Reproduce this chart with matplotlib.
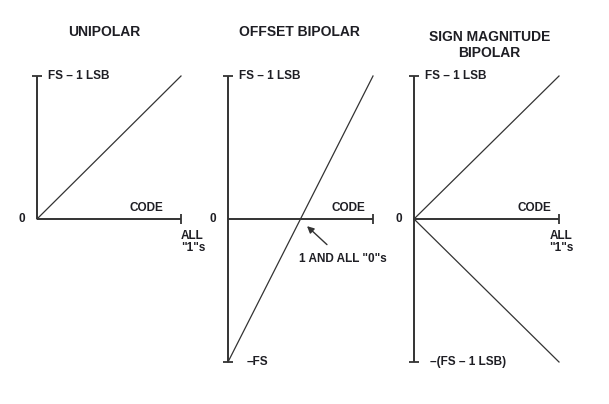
import matplotlib
matplotlib.use("Agg")
import matplotlib.pyplot as plt

# ================= DATA =================
# code runs from all "0"s (0) to all "1"s (1); output normalised to full scale
code = [0.0, 1.0]
unipolar_out = [0.0, 1.0]
offset_out = [-1.0, 1.0]
signmag_pos = [0.0, 1.0]
signmag_neg = [0.0, -1.0]

titles = ["UNIPOLAR", "OFFSET BIPOLAR", "SIGN MAGNITUDE\nBIPOLAR"]
top_label = "FS \u2013 1 LSB"
bottom_labels = [None, "\u2013FS", "\u2013(FS \u2013 1 LSB)"]
midscale_label = '1 AND ALL "0"s'
all_ones = 'ALL\n"1"s'
# ========================================

W, H = 609, 404
INK = "#1e1e24"
LINE = "#333333"
FS = 8.5

plt.rcParams["font.family"] = ["Liberation Sans", "DejaVu Sans"]
plt.rcParams["font.weight"] = "bold"

fig = plt.figure(figsize=(W / 100, H / 100), dpi=100)
fig.patch.set_facecolor("white")

# pixel extents of each panel: (x at code 0, x at all "1"s)
panels = [(37, 181), (228, 373), (414, 559)]
y_top, y_bot = 76, 362


def make_axes(x0, x1):
    ax = fig.add_axes([x0 / W, 1 - y_bot / H, (x1 - x0) / W, (y_bot - y_top) / H])
    ax.set_xlim(0, 1)
    ax.set_ylim(-1, 1)
    ax.axis("off")
    return ax


def frame(ax, bipolar, code_x):
    ybot = -1 if bipolar else 0
    ax.plot([0, 0], [ybot, 1], color=LINE, lw=1.4, clip_on=False, solid_capstyle="butt")
    ax.plot([0, 1], [0, 0], color=LINE, lw=1.4, clip_on=False, solid_capstyle="butt")
    ax.plot([0], [1], marker="_", ms=6.5, mew=1.3, color=LINE, clip_on=False)
    if bipolar:
        ax.plot([0], [-1], marker="_", ms=6.5, mew=1.3, color=LINE, clip_on=False)
    ax.plot([1], [0], marker="|", ms=7, mew=1.3, color=LINE, clip_on=False)
    ax.text(0.075, 1, top_label, fontsize=FS, color=INK, va="center", ha="left")
    ax.text(-0.08, 0, "0", fontsize=FS, color=INK, va="center", ha="right")
    ax.text(code_x, 0.035, "CODE", fontsize=FS, color=INK, va="bottom", ha="right")


# ---- unipolar ----
ax1 = make_axes(*panels[0])
frame(ax1, False, 0.875)
ax1.plot(code, unipolar_out, color=LINE, lw=0.9, clip_on=False)
ax1.text(1.0, -0.075, all_ones, fontsize=FS, color=INK, va="top", ha="left",
         linespacing=1.05)
ax1.text(0.465, 1.305, titles[0], fontsize=10, color=INK, ha="center", va="center")

# ---- offset bipolar ----
ax2 = make_axes(*panels[1])
frame(ax2, True, 0.95)
ax2.plot(code, offset_out, color=LINE, lw=0.9, clip_on=False)
ax2.text(0.13, -1, bottom_labels[1], fontsize=FS, color=INK, va="center", ha="left")
ax2.annotate(midscale_label, xy=(0.545, -0.05), xytext=(0.79, -0.28),
             fontsize=FS, color=INK, ha="center", va="center",
             arrowprops=dict(arrowstyle="-|>", color=LINE, lw=1.0,
                             shrinkA=6, shrinkB=0, mutation_scale=10))
ax2.text(0.49, 1.305, titles[1], fontsize=10, color=INK, ha="center", va="center")

# ---- sign magnitude bipolar ----
ax3 = make_axes(*panels[2])
frame(ax3, True, 0.945)
ax3.plot(code, signmag_pos, color=LINE, lw=0.9, clip_on=False)
ax3.plot(code, signmag_neg, color=LINE, lw=0.9, clip_on=False)
ax3.text(0.935, -0.075, all_ones, fontsize=FS, color=INK, va="top", ha="left",
         linespacing=1.05)
ax3.text(0.11, -1, bottom_labels[2], fontsize=FS, color=INK, va="center", ha="left")
ax3.text(0.52, 1.215, titles[2], fontsize=10, color=INK, ha="center", va="center",
         linespacing=1.2)

fig.savefig("out.png", dpi=100, facecolor="white")
